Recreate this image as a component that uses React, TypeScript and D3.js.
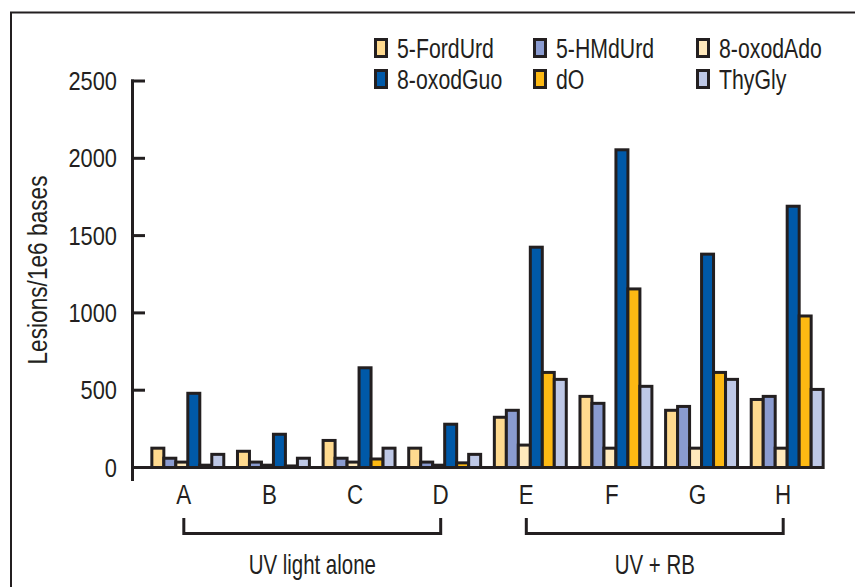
import * as d3 from 'd3';
import { useEffect, useRef } from 'react';

const categories = ['A', 'B', 'C', 'D', 'E', 'F', 'G', 'H'];
const lesionTypes = ['5-FordUrd', '5-HMdUrd', '8-oxodAdo', '8-oxodGuo', 'dO', 'ThyGly'];

// lesions / 1e6 bases
const fordUrd = [125, 105, 175, 125, 325, 460, 370, 440];
const hmdUrd = [60, 35, 60, 35, 370, 415, 395, 460];
const oxodAdo = [35, 15, 35, 15, 145, 125, 125, 125];
const oxodGuo = [480, 215, 645, 280, 1425, 2055, 1380, 1690];
const dO = [15, 10, 55, 30, 615, 1155, 615, 980];
const thyGly = [85, 60, 125, 85, 570, 525, 570, 505];

const seriesColors = ['#FFDA8F', '#8A9BD0', '#FFE9BC', '#0059A8', '#FDB913', '#BEC8E6'];
const yTicks = [0, 500, 1000, 1500, 2000, 2500];
const groupLabels = ['UV light alone', 'UV + RB'];
const groupRanges = [['A', 'D'], ['E', 'H']];

const W = 855;
const H = 587;
const ink = '#231F20';
const font = '"Liberation Sans", Arial, sans-serif';

const App = () => {
    const ref = useRef<SVGSVGElement | null>(null);

    useEffect(() => {
        const svg = d3.select(ref.current);
        svg.selectAll('*').remove();

        const allSeries = [fordUrd, hmdUrd, oxodAdo, oxodGuo, dO, thyGly];

        const x = d3.scaleBand<string>()
            .domain(categories)
            .range([145, 830])
            .paddingInner(0.16)
            .paddingOuter(0.08);

        const xSub = d3.scaleBand<string>()
            .domain(lesionTypes)
            .range([0, x.bandwidth()]);

        const y = d3.scaleLinear()
            .domain([0, 2500])
            .range([467.5, 81]);

        // condensed type: the original face is much narrower than anything installed
        const label = (parent: any, tx: number, ty: number, size: number, squeeze: number, txt: string, anchor = 'start', rot = 0) =>
            parent.append('text')
                .attr('transform', `translate(${tx},${ty})${rot ? ` rotate(${rot})` : ''} scale(${squeeze},1)`)
                .attr('text-anchor', anchor)
                .attr('font-family', font)
                .attr('font-size', size)
                .attr('fill', ink)
                .text(txt);

        // frame (left + top only, the rest is cut off)
        svg.append('path')
            .attr('d', `M11,${H} L11,12.5 L${W},12.5`)
            .attr('fill', 'none')
            .attr('stroke', ink)
            .attr('stroke-width', 2);

        // bars
        const groups = svg.append('g')
            .selectAll('g')
            .data(categories)
            .enter()
            .append('g')
            .attr('transform', d => `translate(${x(d)},0)`);

        groups.selectAll('rect')
            .data((_d, ci) => lesionTypes.map((t, si) => ({ t, v: allSeries[si][ci], si })))
            .enter()
            .append('rect')
            .attr('x', d => xSub(d.t) as number)
            .attr('width', xSub.bandwidth())
            .attr('y', d => y(d.v))
            .attr('height', d => y(0) - y(d.v))
            .attr('fill', d => seriesColors[d.si])
            .attr('stroke', ink)
            .attr('stroke-width', 3);

        // y axis
        svg.append('line')
            .attr('x1', 132.5).attr('x2', 132.5)
            .attr('y1', y(2500) - 1.5).attr('y2', 481)
            .attr('stroke', ink).attr('stroke-width', 3);

        svg.append('line')
            .attr('x1', 131).attr('x2', 823)
            .attr('y1', y(0)).attr('y2', y(0))
            .attr('stroke', ink).attr('stroke-width', 3);

        svg.append('g')
            .selectAll('line')
            .data(yTicks.filter(t => t > 0))
            .enter()
            .append('line')
            .attr('x1', 131).attr('x2', 145)
            .attr('y1', d => y(d)).attr('y2', d => y(d))
            .attr('stroke', ink).attr('stroke-width', 3);

        yTicks.forEach(t => label(svg, 117, y(t) + 9, 26, 0.84, String(t), 'end'));

        label(svg, 47, 270, 27, 0.84, 'Lesions/1e6 bases', 'middle', -90);

        // category labels
        const mid = (c: string) => (x(c) as number) + x.bandwidth() / 2 - 4;
        categories.forEach(c => label(svg, mid(c), 504, 28, 0.8, c, 'middle'));

        // brackets under the groups
        groupRanges.forEach(([a, b], i) => {
            svg.append('path')
                .attr('d', `M${mid(a)},518 L${mid(a)},533.5 L${mid(b)},533.5 L${mid(b)},518`)
                .attr('fill', 'none')
                .attr('stroke', ink)
                .attr('stroke-width', 3);
            label(svg, (mid(a) + mid(b)) / 2, 574, 28, 0.73, groupLabels[i], 'middle');
        });

        // legend, 3 columns x 2 rows
        const legendX = [374, 533, 696];
        const legendY = [38, 69];
        lesionTypes.forEach((t, i) => {
            const g = svg.append('g')
                .attr('transform', `translate(${legendX[i % 3]},${legendY[Math.floor(i / 3)]})`);
            g.append('rect')
                .attr('x', 1.5).attr('y', 1.5)
                .attr('width', 11).attr('height', 17)
                .attr('fill', seriesColors[i])
                .attr('stroke', ink)
                .attr('stroke-width', 3);
            label(g, 23, 20, 28, 0.76, t);
        });
    }, [ref]);

    return (
        <svg
            ref={ref}
            width={W}
            height={H}
            style={{ position: 'absolute', left: 0, top: 0, background: '#fff' }}
        />
    );
};

export default App;
